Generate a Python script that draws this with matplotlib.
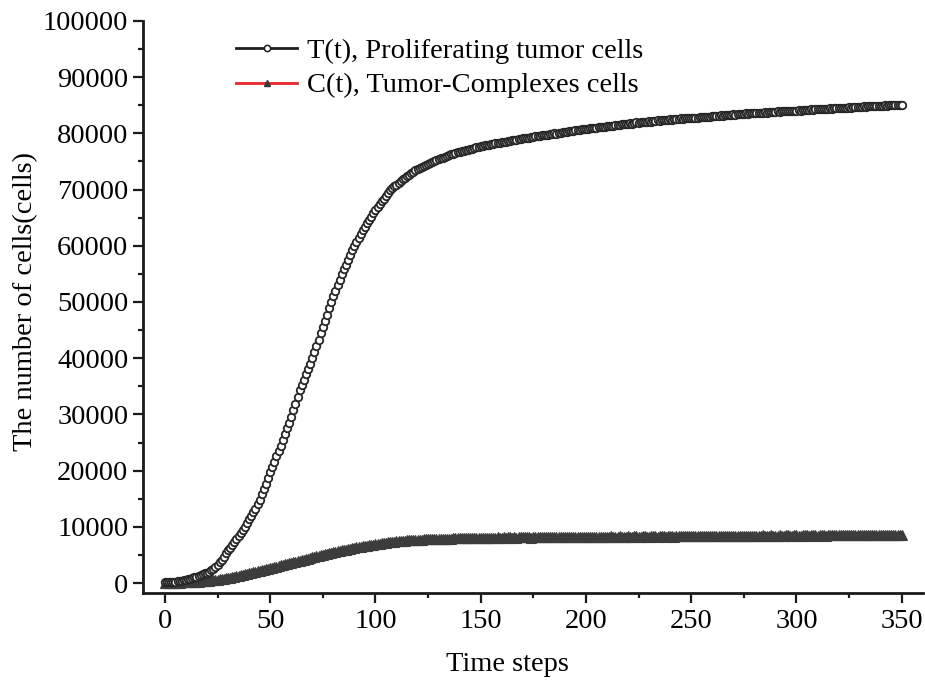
import numpy as np
import matplotlib.pyplot as plt
from matplotlib.lines import Line2D

# time steps 0..350, one value per step
steps = np.arange(0, 351)

tumor = [
    100, 125, 150, 180, 215, 250, 295, 350, 410, 475,
    550, 640, 740, 850, 990, 1150, 1280, 1420, 1560, 1700,
    1850, 2000, 2250, 2550, 2850, 3200, 3650, 4100, 4650, 5300,
    5800, 6300, 6800, 7300, 7800, 8300, 8850, 9400, 10050, 10700,
    11400, 12000, 12600, 13200, 14000, 14800, 15750, 16700, 17700, 18700,
    19700, 20650, 21600, 22550, 23500, 24450, 25400, 26450, 27500, 28550,
    29600, 30750, 31900, 33100, 34300, 35250, 36200, 37150, 38100, 39050,
    40000, 41100, 42200, 43300, 44400, 45500, 46600, 47700, 48850, 50000,
    51000, 52000, 53000, 54000, 54900, 55800, 56650, 57500, 58350, 59200,
    60000, 60700, 61400, 62100, 62750, 63400, 64000, 64600, 65200, 65750,
    66300, 66850, 67400, 67900, 68400, 68900, 69400, 69900, 70250, 70600,
    70900, 71200, 71500, 71800, 72100, 72400, 72650, 72900, 73150, 73400,
    73600, 73800, 74000, 74200, 74400, 74600, 74750, 74900, 75100, 75250,
    75400, 75550, 75700, 75850, 75950, 76100, 76250, 76350, 76500, 76600,
    76700, 76800, 76900, 77000, 77100, 77200, 77300, 77400, 77500, 77600,
    77700, 77750, 77850, 77900, 78000, 78050, 78150, 78200, 78300, 78350,
    78400, 78500, 78550, 78600, 78700, 78750, 78800, 78900, 78950, 79000,
    79100, 79150, 79200, 79250, 79300, 79400, 79450, 79500, 79550, 79650,
    79700, 79800, 79750, 79900, 79950, 80000, 79950, 80100, 80150, 80200,
    80300, 80250, 80400, 80450, 80400, 80550, 80600, 80550, 80700, 80750,
    80800, 80750, 80900, 80950, 80900, 81000, 81050, 81100, 81050, 81200,
    81250, 81300, 81250, 81400, 81450, 81500, 81450, 81600, 81700, 81650,
    81750, 81800, 81750, 81900, 81950, 81900, 82000, 82050, 82000, 82100,
    82150, 82100, 82200, 82250, 82300, 82250, 82350, 82400, 82350, 82450,
    82500, 82450, 82550, 82500, 82600, 82650, 82600, 82700, 82650, 82700,
    82700, 82750, 82800, 82750, 82850, 82900, 82850, 82950, 83000, 82950,
    83050, 83100, 83050, 83150, 83200, 83150, 83250, 83300, 83250, 83350,
    83400, 83350, 83400, 83450, 83500, 83450, 83550, 83500, 83600, 83550,
    83600, 83650, 83600, 83700, 83650, 83750, 83700, 83800, 83750, 83850,
    83800, 83900, 83850, 83950, 83900, 84000, 83950, 84050, 84000, 84050,
    84000, 84100, 84050, 84150, 84100, 84200, 84150, 84250, 84200, 84300,
    84250, 84300, 84350, 84300, 84400, 84350, 84450, 84400, 84500, 84450,
    84500, 84550, 84500, 84600, 84550, 84650, 84600, 84700, 84650, 84700,
    84750, 84700, 84800, 84750, 84850, 84800, 84850, 84900, 84850, 84950,
    84900, 84950, 85000, 84950, 85050, 85000, 85050, 85100, 85000, 85050,
    85000,
]

complexes = [
    0, 10, 20, 30, 45, 60, 70, 85, 100, 110,
    120, 140, 160, 180, 205, 230, 260, 290, 320, 350,
    380, 420, 460, 505, 550, 600, 655, 710, 770, 835,
    900, 975, 1050, 1130, 1210, 1290, 1370, 1450, 1535, 1615,
    1700, 1790, 1885, 1980, 2075, 2170, 2265, 2360, 2455, 2555,
    2650, 2745, 2840, 2935, 3030, 3125, 3220, 3315, 3410, 3505,
    3600, 3695, 3790, 3885, 3980, 4075, 4170, 4265, 4360, 4455,
    4550, 4640, 4730, 4820, 4910, 5000, 5090, 5180, 5270, 5360,
    5450, 5535, 5620, 5705, 5790, 5870, 5950, 6030, 6105, 6180,
    6250, 6320, 6390, 6460, 6530, 6595, 6660, 6720, 6780, 6840,
    6900, 6955, 7010, 7060, 7110, 7160, 7210, 7260, 7305, 7350,
    7400, 7435, 7470, 7505, 7540, 7570, 7600, 7630, 7655, 7680,
    7700, 7715, 7730, 7745, 7760, 7775, 7790, 7805, 7820, 7835,
    7850, 7860, 7870, 7880, 7890, 7900, 7910, 7920, 7930, 7940,
    7950, 7960, 7970, 7980, 7990, 8000, 8010, 8020, 8030, 8040,
    8050, 8020, 8070, 8040, 8090, 8060, 8030, 8080, 8100, 8060,
    8090, 8120, 8070, 8100, 8140, 8090, 8110, 8060, 8120, 8150,
    8100, 8130, 8170, 8120, 8090, 8150, 8180, 8130, 8160, 8110,
    8140, 8190, 8150, 8120, 8170, 8200, 8160, 8130, 8190, 8210,
    8170, 8140, 8200, 8230, 8180, 8150, 8210, 8240, 8190, 8220,
    8250, 8200, 8170, 8230, 8260, 8210, 8180, 8240, 8270, 8220,
    8190, 8250, 8280, 8230, 8200, 8260, 8290, 8240, 8210, 8270,
    8300, 8250, 8220, 8280, 8310, 8260, 8230, 8290, 8320, 8270,
    8240, 8300, 8330, 8280, 8250, 8310, 8340, 8290, 8260, 8320,
    8350, 8300, 8270, 8330, 8360, 8310, 8280, 8340, 8370, 8320,
    8290, 8350, 8380, 8330, 8300, 8360, 8390, 8340, 8310, 8370,
    8400, 8350, 8320, 8380, 8410, 8360, 8330, 8390, 8420, 8370,
    8340, 8400, 8430, 8380, 8350, 8410, 8440, 8390, 8360, 8420,
    8450, 8400, 8370, 8430, 8460, 8410, 8380, 8440, 8470, 8420,
    8390, 8450, 8480, 8430, 8400, 8460, 8490, 8440, 8410, 8470,
    8500, 8450, 8420, 8480, 8510, 8460, 8430, 8490, 8520, 8470,
    8440, 8500, 8530, 8480, 8450, 8510, 8540, 8490, 8460, 8520,
    8550, 8500, 8470, 8530, 8560, 8510, 8480, 8540, 8570, 8520,
    8490, 8550, 8580, 8530, 8500, 8560, 8590, 8540, 8510, 8570,
    8600, 8550, 8520, 8580, 8610, 8560, 8530, 8590, 8620, 8570,
    8550,
]

labels = ['T(t), Proliferating tumor cells', 'C(t), Tumor-Complexes cells']

plt.rcParams['font.family'] = ['Liberation Serif', 'DejaVu Serif']

fig = plt.figure(figsize=(9.25, 6.81), dpi=100)
ax = fig.add_axes([0.1546, 0.1292, 0.843, 0.840])

ax.plot(steps, complexes, linestyle='none', marker='^', markersize=7,
        color='#3c3c3c', markeredgewidth=0.8, zorder=2)
ax.plot(steps, tumor, linestyle='none', marker='o', markersize=5.4,
        markerfacecolor='white', markeredgecolor='#262626',
        markeredgewidth=1.3, zorder=3)

ax.set_xlim(-10.4, 360)
ax.set_ylim(-1780, 100000)
ax.set_xticks(np.arange(0, 351, 50))
ax.set_xticks(np.arange(25, 351, 50), minor=True)
ax.set_yticks(np.arange(0, 100001, 10000))
ax.set_yticks(np.arange(5000, 100000, 10000), minor=True)

for side in ['top', 'right']:
    ax.spines[side].set_visible(False)
for side in ['left', 'bottom']:
    ax.spines[side].set_linewidth(2)
    ax.spines[side].set_color('#1a1a1a')

ax.tick_params(axis='both', which='major', labelsize=20.5, width=1.6, color='#1a1a1a')
ax.tick_params(axis='x', which='major', length=7.5, pad=4)
ax.tick_params(axis='y', which='major', length=7.5, pad=3)
ax.tick_params(axis='both', which='minor', length=3.5, width=1.6, color='#1a1a1a')

ax.set_xlabel('Time steps', fontsize=20.5)
ax.set_ylabel('The number of cells(cells)', fontsize=20.5)
ax.yaxis.set_label_coords(-0.134, 0.51)
ax.xaxis.set_label_coords(0.467, -0.103)

handles = [
    Line2D([], [], color='#1e1e1e', linewidth=2, marker='o', markersize=4.5,
           markerfacecolor='white', markeredgecolor='#1e1e1e', markeredgewidth=1.1),
    Line2D([], [], color='#e8262a', linewidth=2, marker='^', markersize=4.5,
           markerfacecolor='#3a3a3a', markeredgecolor='#3a3a3a'),
]
ax.legend(handles, labels, loc='upper left', bbox_to_anchor=(0.105, 0.99),
          frameon=False, fontsize=20.5, handlelength=2.15, handletextpad=0.35,
          labelspacing=0.3, borderaxespad=0.0)

plt.savefig('out.png', dpi=100)
plt.close()
